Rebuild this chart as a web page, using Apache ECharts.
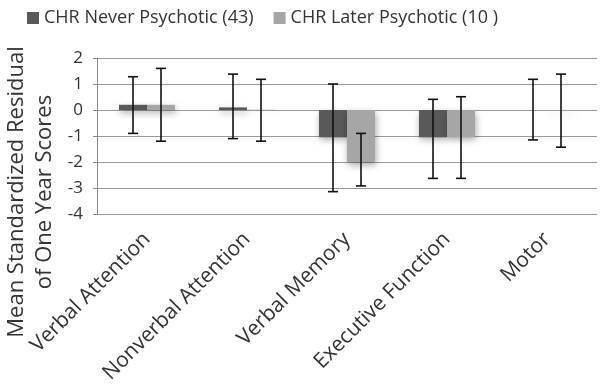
<!DOCTYPE html>
<html>
<head>
<meta charset="utf-8">
<script src="https://cdn.jsdelivr.net/npm/echarts@6/dist/echarts.min.js"></script>
<style>
  html, body { margin: 0; padding: 0; background: #fff; }
  #chart { width: 600px; height: 387px; }
</style>
</head>
<body>
<div id="chart"></div>
<script>
const domains = ['Verbal Attention', 'Nonverbal Attention', 'Verbal Memory', 'Executive Function', 'Motor'];
const neverMean = [0.2, 0.1, -1.05, -1.05, 0.0];
const neverLow = [-0.9, -1.1, -3.14, -2.63, -1.15];
const neverHigh = [1.28, 1.38, 1.0, 0.41, 1.18];
const laterMean = [0.2, 0.01, -2.0, -1.05, -0.02];
const laterLow = [-1.2, -1.2, -2.92, -2.63, -1.43];
const laterHigh = [1.6, 1.18, -0.9, 0.51, 1.38];

const fontFam = '"Open Sans", "Noto Sans", sans-serif';
const barW = 28;

function errorSeries(name, low, high, offset) {
  return {
    name: name,
    type: 'custom',
    z: 10,
    data: domains.map((d, i) => [i, low[i], high[i]]),
    renderItem: function (params, api) {
      const lo = api.coord([api.value(0), api.value(1)]);
      const hi = api.coord([api.value(0), api.value(2)]);
      const x = lo[0] + offset;
      const cap = 5;
      const style = { stroke: '#111', lineWidth: 1.6 };
      return {
        type: 'group',
        children: [
          { type: 'line', shape: { x1: x, y1: hi[1], x2: x, y2: lo[1] }, style: style },
          { type: 'line', shape: { x1: x - cap, y1: hi[1], x2: x + cap, y2: hi[1] }, style: style },
          { type: 'line', shape: { x1: x - cap, y1: lo[1], x2: x + cap, y2: lo[1] }, style: style }
        ]
      };
    }
  };
}

const chart = echarts.init(document.getElementById('chart'));
chart.setOption({
  animation: false,
  textStyle: { fontFamily: fontFam },
  legend: {
    top: 4,
    left: 22,
    itemWidth: 12,
    itemHeight: 12,
    itemGap: 20,
    textStyle: { fontSize: 18, color: '#333', fontFamily: fontFam },
    data: [
      { name: 'CHR Never Psychotic (43)', icon: 'rect' },
      { name: 'CHR Later Psychotic (10 )', icon: 'rect' }
    ]
  },
  grid: { left: 97, right: 3, top: 58, bottom: 173 },
  xAxis: {
    type: 'category',
    data: domains,
    axisLine: { show: false },
    axisTick: { show: false },
    axisLabel: { rotate: 45, fontSize: 21, color: '#333', margin: 22, interval: 0 }
  },
  yAxis: {
    type: 'value',
    min: -4,
    max: 2,
    interval: 1,
    axisLine: { show: true, lineStyle: { color: '#888' } },
    axisTick: { show: true, length: 4, lineStyle: { color: '#888' } },
    axisLabel: { fontSize: 17, color: '#333', margin: 14 },
    splitLine: { lineStyle: { color: '#999', width: 1.2 } }
  },
  graphic: [
    {
      type: 'text',
      x: 3,
      y: 192,
      rotation: Math.PI / 2,
      style: {
        text: 'Mean Standardized Residual\nof One Year Scores',
        fontSize: 22,
        fontFamily: fontFam,
        fill: '#333',
        align: 'center',
        verticalAlign: 'top',
        lineHeight: 28
      }
    }
  ],
  series: [
    {
      name: 'CHR Never Psychotic (43)',
      type: 'bar',
      barWidth: barW,
      barGap: '0%',
      data: neverMean,
      itemStyle: { color: '#595959', shadowBlur: 7, shadowColor: 'rgba(0,0,0,0.35)', shadowOffsetX: 1, shadowOffsetY: 3 }
    },
    {
      name: 'CHR Later Psychotic (10 )',
      type: 'bar',
      barWidth: barW,
      barGap: '0%',
      data: laterMean,
      itemStyle: { color: '#a6a6a6', shadowBlur: 7, shadowColor: 'rgba(0,0,0,0.35)', shadowOffsetX: 1, shadowOffsetY: 3 }
    },
    errorSeries('errNever', neverLow, neverHigh, -barW / 2),
    errorSeries('errLater', laterLow, laterHigh, barW / 2)
  ]
});
</script>
</body>
</html>
